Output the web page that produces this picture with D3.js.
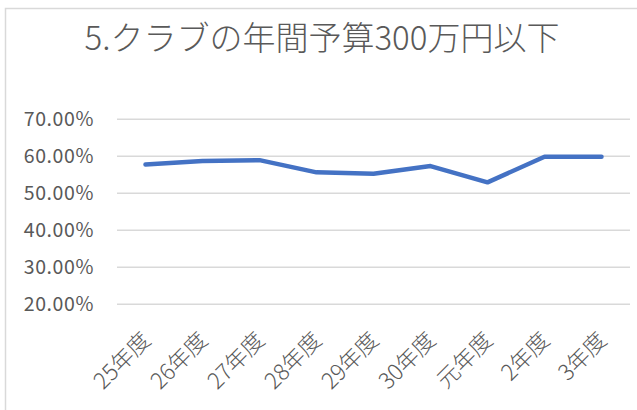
<!DOCTYPE html>
<html><head><meta charset="utf-8">
<script src="https://cdn.jsdelivr.net/npm/d3@7"></script>
<style>
html,body{margin:0;padding:0;background:#fff;}
svg{display:block;}
text{font-family:"Noto Sans CJK JP","Noto Sans",sans-serif;fill:#595959;}
</style></head>
<body>
<svg id="chart" width="637" height="410"></svg>
<script>
const title = "5.クラブの年間予算300万円以下";
const categories = ["25年度","26年度","27年度","28年度","29年度","30年度","元年度","2年度","3年度"];
const values = [57.6, 58.6, 58.8, 55.5, 55.1, 57.2, 52.8, 59.7, 59.7];
const yTicks = [20, 30, 40, 50, 60, 70];

const svg = d3.select("#chart");
const W = 637, H = 410;
const plot = {left: 117, right: 630, top: 118.7, bottom: 303.7};

svg.append("rect").attr("x",5.5).attr("y",8.5).attr("width",W+20).attr("height",H+20)
  .attr("fill","#fff").attr("stroke","#d9d9d9").attr("stroke-width",1.5);

svg.append("text").attr("x",322).attr("y",50).attr("text-anchor","middle")
  .style("font-size","33px").style("font-weight","300").text(title);

const x = d3.scalePoint().domain(categories).range([plot.left, plot.right]).padding(0.5);
const y = d3.scaleLinear().domain([20,70]).range([plot.bottom, plot.top]);

// gridlines
const yAxis = d3.axisLeft(y).tickValues(yTicks).tickSize(-(plot.right-plot.left)).tickPadding(23)
  .tickFormat(d => d3.format(".2f")(d) + "%");
const gy = svg.append("g").attr("transform",`translate(${plot.left},0)`).call(yAxis);
gy.select(".domain").remove();
gy.selectAll(".tick line").attr("stroke","#d9d9d9").attr("stroke-width",1.5);
gy.selectAll(".tick text").style("font-size","19.5px").style("letter-spacing","0.6px")
  .attr("fill","#595959").attr("dy","0.36em");

// x labels
const xAxis = d3.axisBottom(x).tickSize(0).tickPadding(0);
const gx = svg.append("g").attr("transform",`translate(0,${plot.bottom})`).call(xAxis);
gx.select(".domain").remove();
gx.selectAll(".tick text")
  .style("font-size","22.5px").style("font-weight","300").attr("fill","#595959")
  .attr("text-anchor","end").attr("dy","0")
  .attr("transform","translate(6,38) rotate(-45)")
  .attr("y",0).attr("x",0);

// line
const line = d3.line().x((d,i)=>x(categories[i])).y(d=>y(d));
svg.append("path").datum(values).attr("d",line).attr("fill","none")
  .attr("stroke","#4472C4").attr("stroke-width",4.5)
  .attr("stroke-linejoin","round").attr("stroke-linecap","round");
</script>
</body></html>
